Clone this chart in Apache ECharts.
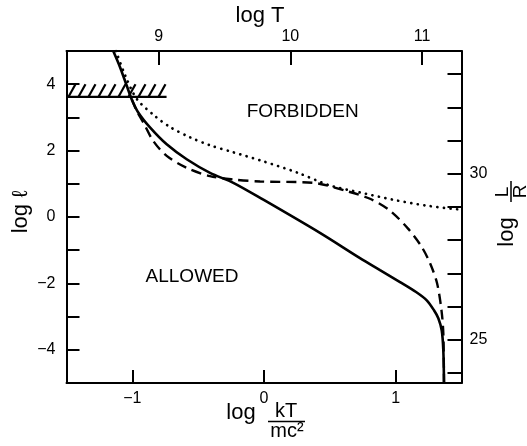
<!DOCTYPE html>
<html><head><meta charset="utf-8">
<script src="https://cdn.jsdelivr.net/npm/echarts@6/dist/echarts.min.js"></script>
<style>html,body{margin:0;padding:0;background:#fff}#c{width:527px;height:446px}</style>
</head><body><div id="c"></div>
<script>
// axis ranges (log kT/mc^2 on bottom, log l on left)
const xMin = -1.5, xMax = 1.5;
const yMin = -5, yMax = 5;
const logTOffset = 9.8;     // log T = log(kT/mc^2) + offset
const logLROffset = 28.7;   // log L/R = log l + offset
const bottomLabels = [-1, 0, 1];
const leftLabels = [-4, -2, 0, 2, 4];
const topLabels = [9, 10, 11];
const rightLabels = [25, 30];

// solid curve
const solidX = [-1.145, -1.094, -1.043, -1.005, -0.955, -0.866, -0.739, -0.587, -0.410, -0.233, -0.005, 0.425, 0.729, 0.881, 1.033, 1.155, 1.236, 1.291, 1.324, 1.350, 1.362, 1.367];
const solidY = [5.0, 4.52, 3.96, 3.55, 3.15, 2.70, 2.19, 1.74, 1.33, 1.03, 0.52, -0.48, -1.24, -1.60, -1.96, -2.26, -2.51, -2.81, -3.05, -3.42, -4.02, -5.0];

// dashed curve
const dashedX = [-1.005, -0.967, -0.917, -0.841, -0.739, -0.587, -0.410, -0.233, -0.030, 0.374, 0.628, 0.805, 0.957, 1.094, 1.193, 1.261, 1.314, 1.348, 1.362, 1.367];
const dashedY = [3.55, 3.20, 2.85, 2.29, 1.84, 1.48, 1.23, 1.13, 1.07, 1.03, 0.78, 0.55, 0.19, -0.35, -0.87, -1.39, -1.99, -2.81, -3.51, -5.0];

// dotted curve
const dottedX = [-1.124, -1.056, -0.965, -0.828, -0.714, -0.562, -0.410, -0.235, -0.008, 0.251, 0.501, 0.729, 0.980, 1.238, 1.50];
const dottedY = [5.0, 4.28, 3.55, 3.04, 2.71, 2.40, 2.16, 1.95, 1.68, 1.34, 0.95, 0.74, 0.52, 0.34, 0.22];

// hatched limit band
const hatchX = [-1.5, -0.74];
const hatchY = [3.62, 4.0];

const zip = (a, b) => a.map((v, i) => [v, b[i]]);
const isInt = v => Math.abs(v - Math.round(v)) < 1e-6;
const fmtNum = n => n < 0 ? '\u2212' + Math.abs(n) : String(n);
const FONT = '"Liberation Sans", Arial, Helvetica, sans-serif';

const axisCommon = {
  axisLine: { show: true, onZero: false, lineStyle: { color: '#000', width: 2 } },
  axisTick: { show: true, inside: true, length: 13, lineStyle: { color: '#000', width: 2 } },
  splitLine: { show: false },
  axisLabel: { color: '#000', fontSize: 16, fontFamily: FONT }
};

const chart = echarts.init(document.getElementById('c'), null, { renderer: 'canvas' });
chart.setOption({
  backgroundColor: '#fff',
  animation: false,
  grid: { left: 66.5, right: 65.5, top: 51, bottom: 63, containLabel: false, outerBoundsMode: 'none' },
  xAxis: [
    Object.assign({}, axisCommon, {
      type: 'value', position: 'bottom', min: xMin, max: xMax, splitNumber: 3,
      axisLabel: Object.assign({}, axisCommon.axisLabel, { margin: 8,
        formatter: v => (isInt(v) && bottomLabels.includes(Math.round(v))) ? fmtNum(Math.round(v)) : '' })
    }),
    Object.assign({}, axisCommon, {
      type: 'value', position: 'top', min: xMin + logTOffset, max: xMax + logTOffset, splitNumber: 3,
      axisTick: Object.assign({}, axisCommon.axisTick, { length: 14 }),
      axisLabel: Object.assign({}, axisCommon.axisLabel, { margin: 6,
        formatter: v => (isInt(v) && topLabels.includes(Math.round(v))) ? String(Math.round(v)) : '' })
    })
  ],
  yAxis: [
    Object.assign({}, axisCommon, {
      type: 'value', position: 'left', min: yMin, max: yMax, interval: 1,
      axisLabel: Object.assign({}, axisCommon.axisLabel, { margin: 11,
        formatter: v => (isInt(v) && leftLabels.includes(Math.round(v))) ? fmtNum(Math.round(v)) : '' })
    }),
    Object.assign({}, axisCommon, {
      type: 'value', position: 'right', min: yMin + logLROffset, max: yMax + logLROffset, splitNumber: 10,
      axisTick: Object.assign({}, axisCommon.axisTick, { length: 14 }),
      axisLabel: Object.assign({}, axisCommon.axisLabel, { margin: 8,
        formatter: v => (isInt(v) && rightLabels.includes(Math.round(v))) ? String(Math.round(v)) : '' })
    })
  ],
  series: [
    {
      type: 'custom', xAxisIndex: 0, yAxisIndex: 0, silent: true,
      encode: { x: [0, 1], y: [2, 3] },
      data: [[hatchX[0], hatchX[1], hatchY[0], hatchY[1]]],
      renderItem: function (params, api) {
        const p0 = api.coord([api.value(0), api.value(2)]);
        const p1 = api.coord([api.value(1), api.value(3)]);
        const children = [];
        const step = 10, lean = 7;
        for (let x = p0[0] + 2; x + lean <= p1[0] + 1; x += step) {
          children.push({ type: 'line', shape: { x1: x, y1: p0[1], x2: x + lean, y2: p1[1] },
            style: { stroke: '#000', lineWidth: 2.2 } });
        }
        return { type: 'group', children: children };
      }
    },
    {
      type: 'line', xAxisIndex: 0, yAxisIndex: 0, symbol: 'none', silent: true,
      data: [[hatchX[0], hatchY[0]], [hatchX[1], hatchY[0]]],
      lineStyle: { color: '#000', width: 2.2 }
    },
    {
      type: 'line', symbol: 'none', silent: true, smooth: 0.3,
      data: zip(solidX, solidY),
      lineStyle: { color: '#000', width: 2.6 }
    },
    {
      type: 'line', symbol: 'none', silent: true, smooth: 0.3,
      data: zip(dashedX, dashedY),
      lineStyle: { color: '#000', width: 2.4, type: [10, 6] }
    },
    {
      type: 'line', symbol: 'none', silent: true, smooth: 0.3,
      data: zip(dottedX, dottedY),
      lineStyle: { color: '#000', width: 2.7, type: [0.1, 6.5], cap: 'round' }
    }
  ],
  graphic: [
    { type: 'text', x: 260, y: 16, style: { text: 'log T', font: '22px ' + FONT, fill: '#000', textAlign: 'center', textVerticalAlign: 'middle' } },
    { type: 'text', x: 302.7, y: 112, style: { text: 'FORBIDDEN', font: '19px ' + FONT, fill: '#000', textAlign: 'center', textVerticalAlign: 'middle' } },
    { type: 'text', x: 192, y: 277, style: { text: 'ALLOWED', font: '19px ' + FONT, fill: '#000', textAlign: 'center', textVerticalAlign: 'middle' } },
    { type: 'text', x: 21, y: 212, rotation: Math.PI / 2, style: { text: 'log \u2113', font: '22px ' + FONT, fill: '#000', textAlign: 'center', textVerticalAlign: 'middle' } },
    { type: 'text', x: 241, y: 413, style: { text: 'log', font: '22px ' + FONT, fill: '#000', textAlign: 'center', textVerticalAlign: 'middle' } },
    { type: 'text', x: 286, y: 411, style: { text: 'kT', font: '20px ' + FONT, fill: '#000', textAlign: 'center', textVerticalAlign: 'middle' } },
    { type: 'line', shape: { x1: 268, y1: 421.5, x2: 305, y2: 421.5 }, style: { stroke: '#000', lineWidth: 1.5 } },
    { type: 'text', x: 287, y: 431, style: { text: 'mc\u00B2', font: '20px ' + FONT, fill: '#000', textAlign: 'center', textVerticalAlign: 'middle' } },
    {
      type: 'group', x: 510, y: 216, rotation: Math.PI / 2,
      children: [
        { type: 'text', x: -16, y: -3.3, style: { text: 'log', font: '22px ' + FONT, fill: '#000', textAlign: 'center', textVerticalAlign: 'middle' } },
        { type: 'text', x: 24, y: -7.5, style: { text: 'L', font: '19px ' + FONT, fill: '#000', textAlign: 'center', textVerticalAlign: 'middle' } },
        { type: 'line', shape: { x1: 14, y1: 1, x2: 35, y2: 1 }, style: { stroke: '#000', lineWidth: 1.5 } },
        { type: 'text', x: 24.5, y: 11, style: { text: 'R', font: '19px ' + FONT, fill: '#000', textAlign: 'center', textVerticalAlign: 'middle' } }
      ]
    }
  ]
});
</script>
</body></html>
